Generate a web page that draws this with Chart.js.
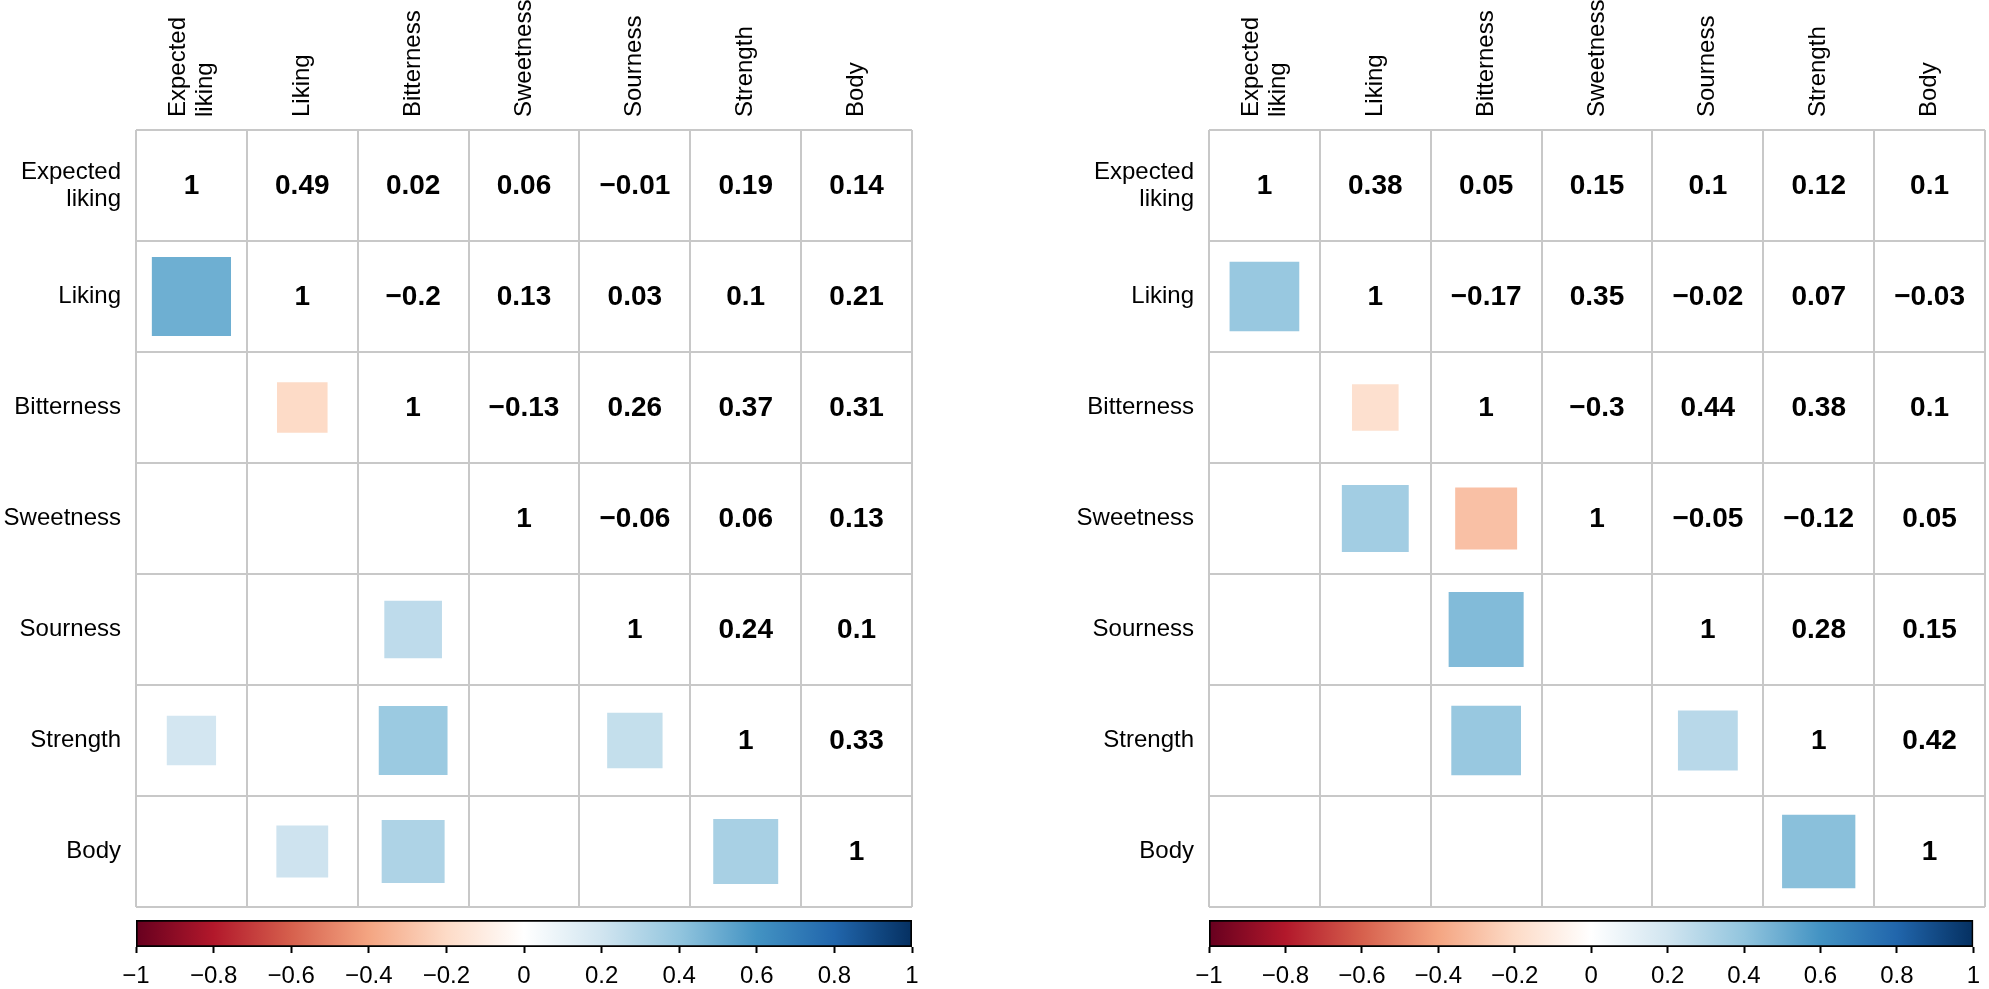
<!DOCTYPE html>
<html>
<head>
<meta charset="utf-8">
<title>Correlation matrices</title>
<script src="https://cdn.jsdelivr.net/npm/chart.js@4.4.1/dist/chart.umd.min.js"></script>
<style>
    html, body { margin: 0; padding: 0; background: #fff; }
    .box { position: absolute; }
</style>
</head>
<body>
<div class="box" style="left:0;top:0;width:994px;height:915px;"><canvas id="leftPanel"></canvas></div>
<div class="box" style="left:994px;top:0;width:995px;height:915px;"><canvas id="rightPanel"></canvas></div>
<div class="box" style="left:0;top:905px;width:994px;height:84px;"><canvas id="leftBar"></canvas></div>
<div class="box" style="left:994px;top:905px;width:995px;height:84px;"><canvas id="rightBar"></canvas></div>
<script>
/* ── Data ── */
var variables = ['Expected liking', 'Liking', 'Bitterness', 'Sweetness', 'Sourness', 'Strength', 'Body'];

// upper triangle, row i starts at the diagonal
var leftUpper = [
    [1, 0.49, 0.02, 0.06, -0.01, 0.19, 0.14],
    [1, -0.2, 0.13, 0.03, 0.1, 0.21],
    [1, -0.13, 0.26, 0.37, 0.31],
    [1, -0.06, 0.06, 0.13],
    [1, 0.24, 0.1],
    [1, 0.33],
    [1]
];
var rightUpper = [
    [1, 0.38, 0.05, 0.15, 0.1, 0.12, 0.1],
    [1, -0.17, 0.35, -0.02, 0.07, -0.03],
    [1, -0.3, 0.44, 0.38, 0.1],
    [1, -0.05, -0.12, 0.05],
    [1, 0.28, 0.15],
    [1, 0.42],
    [1]
];

// lower-triangle cells drawn as squares: [row, col]
var leftSquares = [[1, 0], [2, 1], [4, 2], [5, 0], [5, 2], [5, 4], [6, 1], [6, 2], [6, 5]];
var rightSquares = [[1, 0], [2, 1], [3, 1], [3, 2], [4, 2], [5, 2], [5, 4], [6, 5]];

var colorbarTicks = [-1, -0.8, -0.6, -0.4, -0.2, 0, 0.2, 0.4, 0.6, 0.8, 1];
var rdbu = ['#67001F', '#B2182B', '#D6604D', '#F4A582', '#FDDBC7', '#FFFFFF',
            '#D1E5F0', '#92C5DE', '#4393C3', '#2166AC', '#053061'];

var FONT = '"Liberation Sans", Arial, sans-serif';
Chart.defaults.font.family = FONT;
Chart.defaults.color = '#000';

/* ── Helpers ── */
function hexToRgb(h) {
    return [parseInt(h.substr(1, 2), 16), parseInt(h.substr(3, 2), 16), parseInt(h.substr(5, 2), 16)];
}

function corrColor(v) {
    var t = (v + 1) / 2 * (rdbu.length - 1);
    var i = Math.min(Math.floor(t), rdbu.length - 2);
    var f = t - i;
    var a = hexToRgb(rdbu[i]), b = hexToRgb(rdbu[i + 1]);
    var c = a.map(function (x, k) { return Math.round(x + (b[k] - x) * f); });
    return 'rgb(' + c.join(',') + ')';
}

function fmt(v) {
    var s = String(v);
    return v < 0 ? '\u2212' + s.slice(1) : s;
}

function integerTicks(scale) {
    var t = [];
    for (var i = 0; i <= variables.length; i++) t.push({ value: i });
    scale.ticks = t;
}

var cellTextPlugin = {
    id: 'cellText',
    afterDatasetsDraw: function (chart) {
        var ctx = chart.ctx;
        var xs = chart.scales.x, ys = chart.scales.y;
        var area = chart.chartArea;
        var ds = chart.data.datasets[1];
        var meta = chart.getDatasetMeta(1);

        ctx.save();
        ctx.fillStyle = '#000';
        ctx.textAlign = 'center';
        ctx.textBaseline = 'middle';
        ctx.font = 'bold 28px ' + FONT;
        meta.data.forEach(function (pt, i) {
            ctx.fillText(fmt(ds.data[i].v), pt.x, pt.y + 1);
        });

        ctx.font = '24px ' + FONT;
        var lh = 27;
        variables.forEach(function (name, i) {
            var lines = name.split(' ');
            var x = xs.getPixelForValue(i + 0.5);
            ctx.save();
            ctx.translate(x, area.top - 13);
            ctx.rotate(-Math.PI / 2);
            ctx.textAlign = 'left';
            lines.forEach(function (ln, k) {
                ctx.fillText(ln, 0, (k - (lines.length - 1) / 2) * lh);
            });
            ctx.restore();

            var y = ys.getPixelForValue(i + 0.5);
            ctx.textAlign = 'right';
            lines.forEach(function (ln, k) {
                ctx.fillText(ln, area.left - 15, y + (k - (lines.length - 1) / 2) * lh);
            });
        });
        ctx.restore();
    }
};

/* ── Charts ── */
function createPanel(id, upper, squares, axisWidth, rightPad) {
    var valuePts = [];
    upper.forEach(function (row, i) {
        row.forEach(function (v, k) {
            valuePts.push({ x: i + k + 0.5, y: i + 0.5, v: v });
        });
    });
    var squarePts = squares.map(function (rc) {
        var r = rc[0], c = rc[1];
        return { x: c + 0.5, y: r + 0.5, v: upper[c][r - c] };
    });

    var gridOpts = { color: '#C8C8C8', lineWidth: 2, drawTicks: false };

    return new Chart(document.getElementById(id), {
        type: 'scatter',
        data: {
            datasets: [
                {
                    data: squarePts,
                    pointStyle: 'rect',
                    borderWidth: 0,
                    pointBorderWidth: 0,
                    pointBackgroundColor: function (c) { return c.raw ? corrColor(c.raw.v) : '#fff'; },
                    pointRadius: function (c) {
                        var area = c.chart.chartArea;
                        if (!area || !c.raw) return 0;
                        var cell = (area.right - area.left) / variables.length;
                        return cell * Math.sqrt(Math.abs(c.raw.v)) * 1.02 / Math.SQRT2;
                    },
                    pointHoverRadius: function (c) {
                        var area = c.chart.chartArea;
                        if (!area || !c.raw) return 0;
                        var cell = (area.right - area.left) / variables.length;
                        return cell * Math.sqrt(Math.abs(c.raw.v)) * 1.02 / Math.SQRT2;
                    }
                },
                { data: valuePts, pointRadius: 0, pointHoverRadius: 0 }
            ]
        },
        options: {
            responsive: true, maintainAspectRatio: false,
            animation: false,
            events: [],
            layout: { padding: { left: 0, top: 0, right: rightPad, bottom: 8 } },
            plugins: { legend: { display: false }, tooltip: { enabled: false } },
            scales: {
                x: {
                    type: 'linear', position: 'top', min: 0, max: variables.length,
                    afterBuildTicks: integerTicks,
                    afterFit: function (s) { s.height = 130; },
                    ticks: { display: false },
                    grid: gridOpts,
                    border: { display: false }
                },
                y: {
                    type: 'linear', position: 'left', reverse: true, min: 0, max: variables.length,
                    afterBuildTicks: integerTicks,
                    afterFit: function (s) { s.width = axisWidth; },
                    ticks: { display: false },
                    grid: gridOpts,
                    border: { display: false }
                }
            }
        },
        plugins: [cellTextPlugin]
    });
}

function createColorbar(id, leftPad, rightPad) {
    return new Chart(document.getElementById(id), {
        type: 'bar',
        data: {
            labels: [''],
            datasets: [{
                data: [[colorbarTicks[0], colorbarTicks[colorbarTicks.length - 1]]],
                backgroundColor: function (c) {
                    var area = c.chart.chartArea;
                    if (!area) return '#fff';
                    var g = c.chart.ctx.createLinearGradient(area.left, 0, area.right, 0);
                    rdbu.forEach(function (col, i) { g.addColorStop(i / (rdbu.length - 1), col); });
                    return g;
                },
                borderColor: '#000',
                borderWidth: 2,
                borderSkipped: false,
                barPercentage: 1,
                categoryPercentage: 1
            }]
        },
        options: {
            indexAxis: 'y',
            responsive: true, maintainAspectRatio: false,
            animation: false,
            events: [],
            layout: { padding: { left: leftPad, right: rightPad, top: 15, bottom: 0 } },
            plugins: { legend: { display: false }, tooltip: { enabled: false } },
            scales: {
                x: {
                    type: 'linear', position: 'bottom', min: -1, max: 1,
                    afterBuildTicks: function (s) {
                        s.ticks = colorbarTicks.map(function (v) { return { value: v }; });
                    },
                    afterFit: function (s) { s.height = 42; },
                    ticks: {
                        padding: 9,
                        font: { size: 24 },
                        color: '#000',
                        maxRotation: 0,
                        autoSkip: false,
                        callback: function (v) { return fmt(Math.round(v * 10) / 10); }
                    },
                    grid: { drawOnChartArea: false, drawTicks: true, tickLength: 6, tickColor: '#000', tickWidth: 2 },
                    border: { display: false }
                },
                y: { display: false }
            }
        }
    });
}

createPanel('leftPanel', leftUpper, leftSquares, 136, 82);
createPanel('rightPanel', rightUpper, rightSquares, 215, 4);
createColorbar('leftBar', 136, 82);
createColorbar('rightBar', 215, 4);
</script>
</body>
</html>
